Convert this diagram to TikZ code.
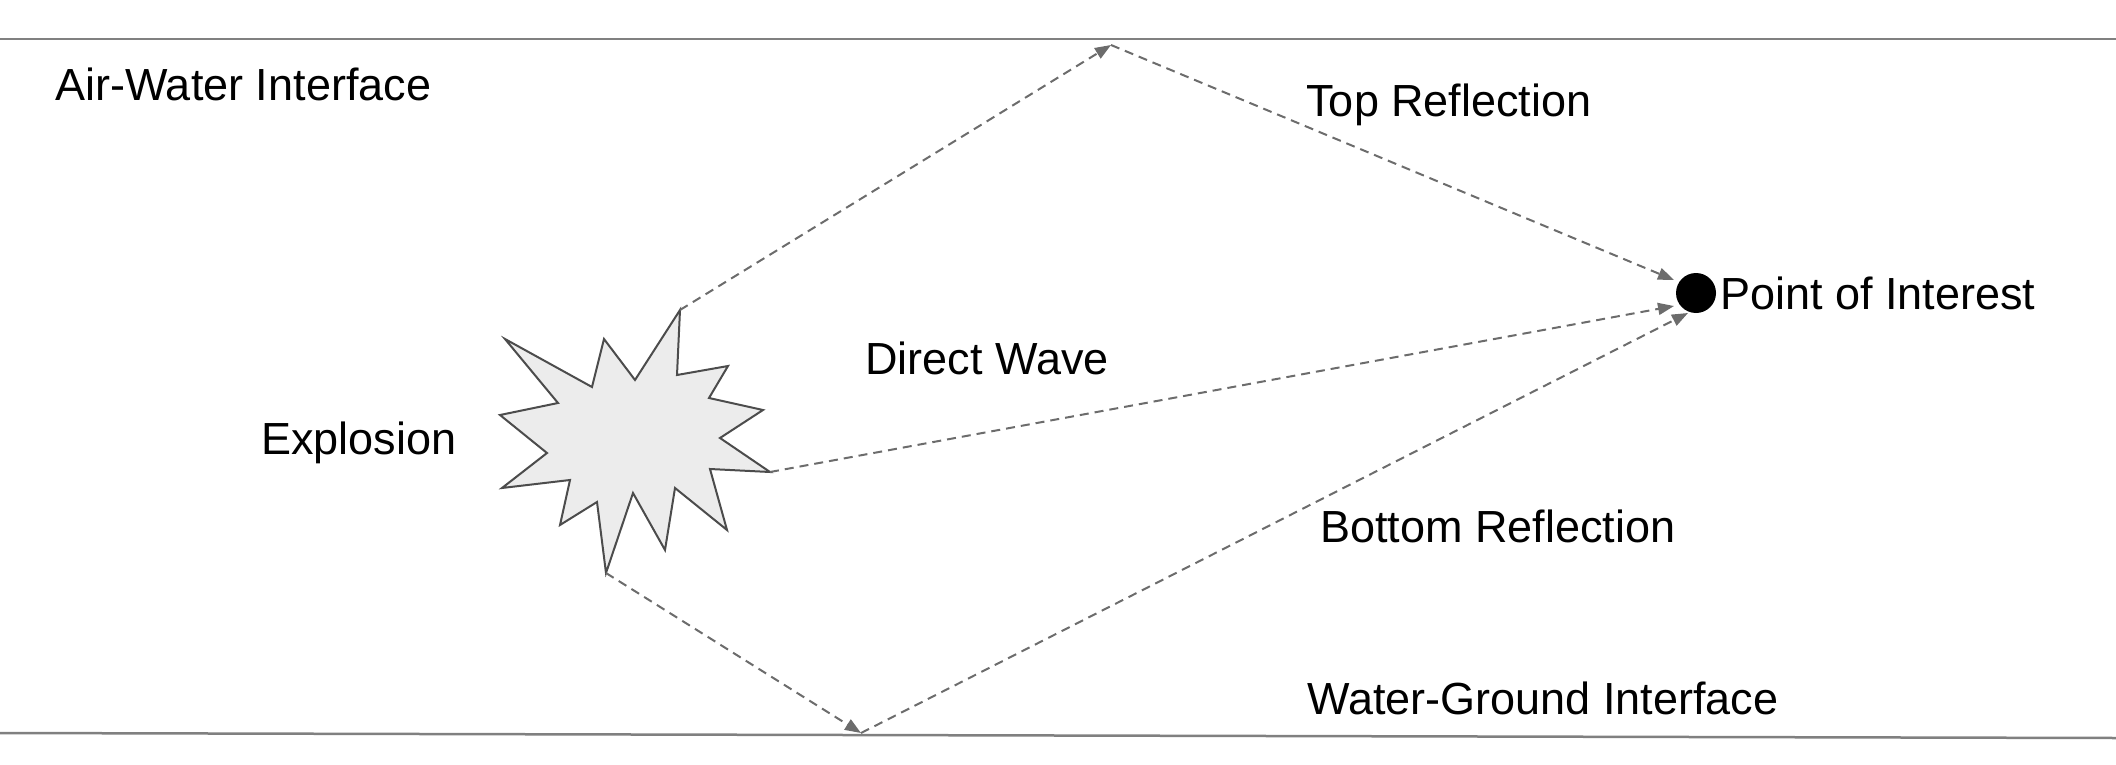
\documentclass[tikz,border=0pt]{standalone}
\usepackage{fontspec}
\setmainfont{Liberation Sans}
\usetikzlibrary{arrows.meta}
\begin{document}
\begin{tikzpicture}[x=1pt,y=-1pt,
  lbl/.style={font=\fontsize{45}{50}\selectfont, inner sep=0pt},
  wave/.style={draw=gray!85!black, line width=2pt, dash pattern=on 9pt off 6pt, -{Triangle[length=16pt,width=12pt]}},
  iface/.style={draw=gray, line width=2.5pt}]
\useasboundingbox (0,0) rectangle (2116,765);
\coordinate (tl) at (0,39); \coordinate (tr) at (2116,39);
\coordinate (bl) at (0,733); \coordinate (br) at (2116,738);
\draw[iface] (tl) -- (tr);
\draw[iface] (bl) -- (br);
\draw[draw=gray!60!black, fill=gray!15, line width=2pt, line join=miter]
 (680,310) -- (677,375) -- (728,366) -- (709,398) -- (763,410) -- (720,438) -- (770,472) -- (710,469) -- (727,530) -- (675,488) -- (665,550) -- (633,493) -- (606,573) -- (597,502) -- (560,525) -- (570,480) -- (502,488) -- (547,453) -- (500,415) -- (558,403) -- (505,339) -- (592,387) -- (604,339) -- (635,380) -- cycle;
\coordinate (sTop) at (680,310);
\coordinate (sRight) at (770,472);
\coordinate (sBot) at (606,573);
\coordinate (rTop) at (1111,45);
\coordinate (rBot) at (861,733);
\node[circle, fill=black, minimum size=40pt, inner sep=0pt] (poi) at (1696,293) {};
\coordinate (e1) at (1674,280);
\coordinate (e2) at (1674,306);
\coordinate (e3) at (1688,313);
\draw[wave] (sTop) -- (rTop);
\draw[wave] (rTop) -- (e1);
\draw[wave] (sRight) -- (e2);
\draw[wave] (sBot) -- (rBot);
\draw[wave] (rBot) -- (e3);
\node[lbl, anchor=west] (aw) at (55,84) {Air-Water Interface};
\node[lbl] (tr) at (1449,105) {Top Reflection};
\node[lbl, anchor=west] (pl) at (1720,293) {Point of Interest};
\node[lbl] (dw) at (987,358) {Direct Wave};
\node[lbl] (ex) at (359,443) {Explosion};
\node[lbl] (br) at (1498,526) {Bottom Reflection};
\node[lbl] (wg) at (1543,698) {Water-Ground Interface};
\end{tikzpicture}
\end{document}
